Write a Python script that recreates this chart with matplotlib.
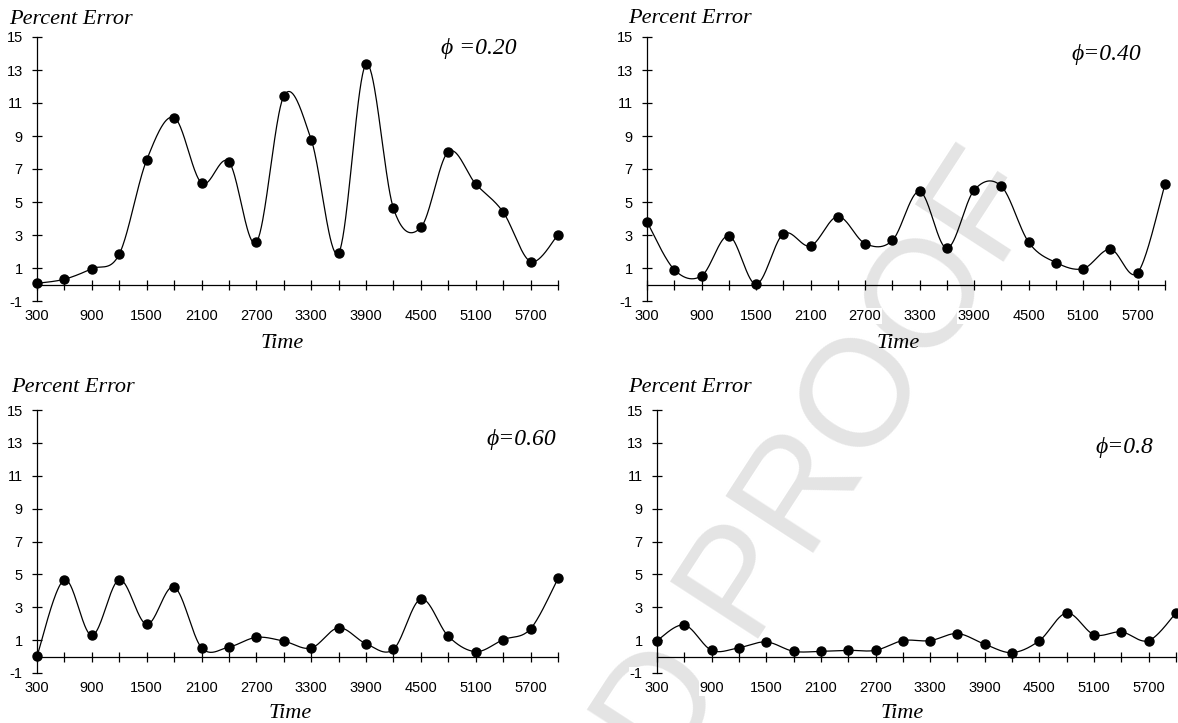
import numpy as np
import matplotlib.pyplot as plt
from matplotlib.ticker import FixedLocator

W, H = 1178, 723

time = list(range(300, 6001, 300))
time_labels = ["300", "", "900", "", "1500", "", "2100", "", "2700", "", "3300", "",
               "3900", "", "4500", "", "5100", "", "5700", ""]
y_ticks = [-1, 1, 3, 5, 7, 9, 11, 13, 15]

err_020 = [0.07, 0.32, 0.96, 1.84, 7.55, 10.12, 6.15, 7.43, 2.56, 11.42,
           8.78, 1.92, 13.34, 4.61, 3.46, 8.05, 6.09, 4.39, 1.39, 3.01]
err_040 = [3.80, 0.90, 0.52, 2.95, 0.02, 3.07, 2.34, 4.12, 2.48, 2.67,
           5.64, 2.20, 5.72, 5.95, 2.56, 1.33, 0.96, 2.14, 0.72, 6.09]
err_060 = [0.03, 4.67, 1.29, 4.67, 1.96, 4.23, 0.54, 0.58, 1.17, 0.94,
           0.52, 1.75, 0.78, 0.44, 3.50, 1.23, 0.30, 1.03, 1.69, 4.75]
err_080 = [0.97, 1.92, 0.38, 0.54, 0.89, 0.32, 0.32, 0.38, 0.38, 0.97,
           0.97, 1.40, 0.75, 0.24, 0.97, 2.65, 1.33, 1.50, 0.97, 2.65]

labels = ["\u03d5 =0.20", "\u03d5=0.40", "\u03d5=0.60", "\u03d5=0.8"]
series = [err_020, err_040, err_060, err_080]

# panel boxes in pixels: left, right, top(15), bottom(-1)
boxes = [(37, 558, 37, 301), (647, 1165, 37, 301),
         (37, 558, 410, 673), (657, 1176, 410, 673)]
# text anchors in pixels
pe_pos = [(9, 24), (628, 23), (11, 392), (628, 392)]
phi_pos = [(517, 54), (1141, 60), (556, 445), (1153, 453)]
time_pos = [(282, 348), (898, 348), (290, 718), (902, 718)]

serif = ["Liberation Serif", "DejaVu Serif"]
sans = ["Liberation Sans", "DejaVu Sans"]


def smooth(x, y, n=40):
    # excel style smoothed line: bezier with catmull-rom control points
    x = np.asarray(x, float)
    y = np.asarray(y, float)
    px = np.concatenate([[x[0]], x, [x[-1]]])
    py = np.concatenate([[y[0]], y, [y[-1]]])
    xs, ys = [], []
    t = np.linspace(0, 1, n)
    for i in range(len(x) - 1):
        p0 = np.array([x[i], y[i]])
        p3 = np.array([x[i + 1], y[i + 1]])
        p1 = p0 + (np.array([px[i + 2], py[i + 2]]) - np.array([px[i], py[i]])) / 6
        p2 = p3 - (np.array([px[i + 3], py[i + 3]]) - np.array([px[i + 1], py[i + 1]])) / 6
        b = ((1 - t) ** 3)[:, None] * p0 + (3 * (1 - t) ** 2 * t)[:, None] * p1 \
            + (3 * (1 - t) * t ** 2)[:, None] * p2 + (t ** 3)[:, None] * p3
        xs.append(b[:, 0])
        ys.append(b[:, 1])
    return np.concatenate(xs), np.concatenate(ys)


def fpos(x, y):
    return x / W, 1 - y / H


fig = plt.figure(figsize=(W / 100, H / 100), dpi=100)
fig.patch.set_facecolor("white")

# watermark behind everything
wx, wy = fpos(592, 823)
fig.text(wx, wy, "CORRECTED PROOF", rotation=57, rotation_mode="anchor",
         ha="center", va="center", fontsize=110,
         color="#e4e4e4", family=sans, zorder=-10)

for k in range(4):
    l, r, t, b = boxes[k]
    ax = fig.add_axes([l / W, 1 - b / H, (r - l) / W, (b - t) / H])
    ax.patch.set_visible(False)
    sx, sy = smooth(time, series[k])
    ax.plot(sx, sy, color="black", lw=0.9, clip_on=False)
    ax.plot(time, series[k], "o", color="black", ms=6.5, clip_on=False)
    ax.set_xlim(300, 6000)
    ax.set_ylim(-1, 15)
    for s in ["top", "right"]:
        ax.spines[s].set_visible(False)
    ax.spines["bottom"].set_position(("data", 0))
    ax.spines["left"].set_linewidth(0.9)
    ax.spines["bottom"].set_linewidth(0.9)
    ax.xaxis.set_major_locator(FixedLocator(time))
    ax.set_xticklabels(time_labels)
    ax.set_yticks(y_ticks)
    ax.set_yticklabels([str(v) for v in y_ticks])
    ax.tick_params(axis="x", direction="inout", length=7.5, width=0.9, pad=14,
                   labelsize=10.5)
    ax.tick_params(axis="y", direction="inout", length=7.5, width=0.9, pad=6.5,
                   labelsize=10.5)
    for lab in ax.get_xticklabels() + ax.get_yticklabels():
        lab.set_family(sans)
        lab.set_bbox(dict(facecolor="white", edgecolor="none", pad=0.5))

    x0, y0 = fpos(*pe_pos[k])
    fig.text(x0, y0, "Percent Error", ha="left", va="baseline", fontsize=16,
             style="italic", family=serif)
    x0, y0 = fpos(*phi_pos[k])
    fig.text(x0, y0, labels[k], ha="right", va="baseline", fontsize=17,
             style="italic", family=serif)
    x0, y0 = fpos(*time_pos[k])
    fig.text(x0, y0, "Time", ha="center", va="baseline", fontsize=16,
             style="italic", family=serif)

fig.savefig("out.png", dpi=100)
